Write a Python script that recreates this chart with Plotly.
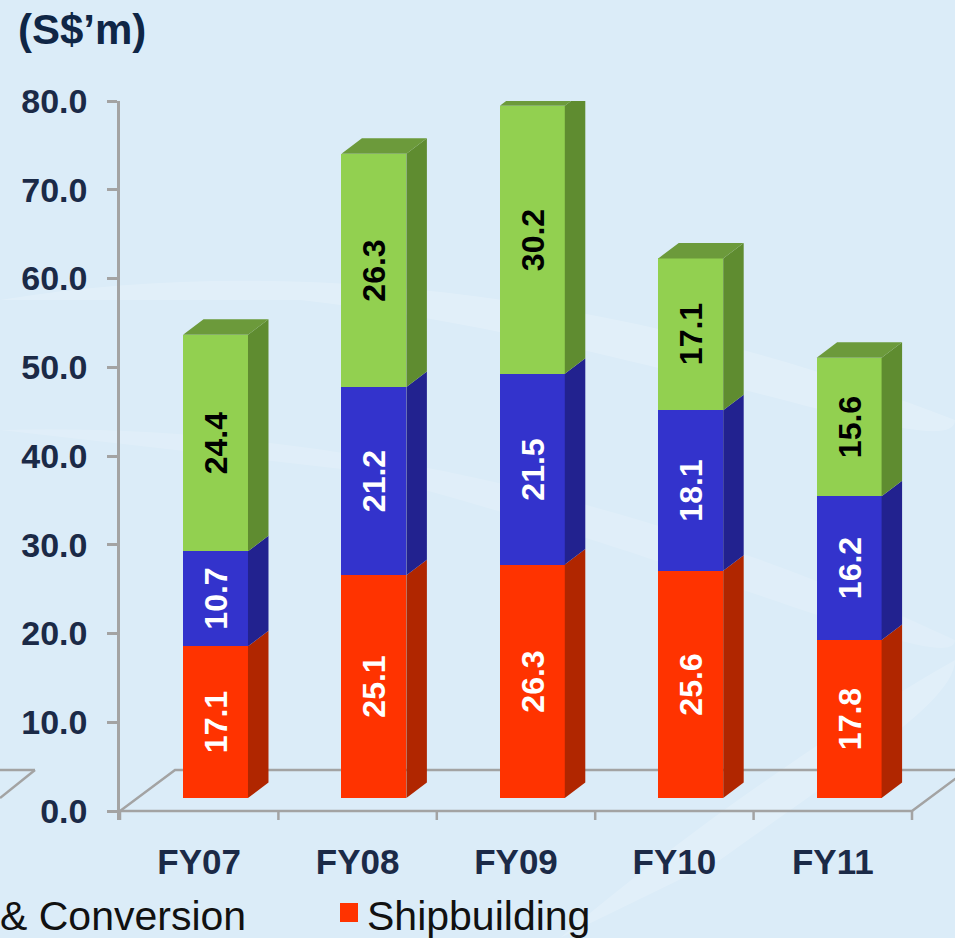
import plotly.graph_objects as go

# ---------------- data ----------------
categories = ["FY07", "FY08", "FY09", "FY10", "FY11"]
shipbuilding = [17.1, 25.1, 26.3, 25.6, 17.8]
repair_conversion = [10.7, 21.2, 21.5, 18.1, 16.2]
other_segment = [24.4, 26.3, 30.2, 17.1, 15.6]
y_ticks = [0, 10, 20, 30, 40, 50, 60, 70, 80]

# ---------------- geometry / style ----------------
W, H = 955, 938
L_M, T_M = 120, 101
PLOT_BOTTOM_PX = 820
PX_PER_UNIT = 8.875          # px per S$m on the y axis
CAT_PX = 158.4               # px per category
Y_MIN = -9 / PX_PER_UNIT     # axis line extends a bit below zero
Y2_MIN = -22 / PX_PER_UNIT   # bars sit 13px above the floor front edge
Y_SPAN = 80 - Y_MIN
X_MAX = (W - L_M) / CAT_PX

BAR_OFF = 0.603              # bar centre offset inside a category
BAR_W = 0.41
DX = 20.5 / CAT_PX           # bar depth (x)
DY = 15.5 / PX_PER_UNIT      # bar depth (y)
FDX = 55 / CAT_PX            # floor depth
FDY = 41 / PX_PER_UNIT

FONT = "Liberation Sans, Arial, sans-serif"
NAVY = "#1b2a47"
GRID = "#a3a3a3"

series = [
    dict(name="Shipbuilding", vals=shipbuilding, front="#ff3300", side="#b02600", txt="white"),
    dict(name="Repair & Conversion", vals=repair_conversion, front="#3333cc", side="#22228f", txt="white"),
    dict(name="Other", vals=other_segment, front="#92d050", side="#5f8c30", txt="black"),
]
TOP_COLOR = "#6c9a3b"

n = len(categories)
xpos = [i + BAR_OFF for i in range(n)]

fig = go.Figure()

# floor + x ticks on the main axis (drawn beneath the bar subplot)
fx, fy = [], []
fx += [0, n, n + FDX]; fy += [0, 0, FDY]
fx += [None]; fy += [None]
fx += [0, FDX, n + 2 * FDX]; fy += [0, FDY, FDY]
for k in range(n + 1):
    fx += [None, k, k]; fy += [None, 0, Y_MIN]
fig.add_trace(go.Scatter(x=fx, y=fy, mode="lines", line=dict(color=GRID, width=2.5),
                         hoverinfo="skip", showlegend=False, xaxis="x", yaxis="y"))

# front faces
cum = [0.0] * n
bases = []
for s in series:
    bases.append(cum[:])
    fig.add_trace(go.Bar(
        x=xpos, y=s["vals"], width=BAR_W, name=s["name"], yaxis="y2",
        marker=dict(color=s["front"], line=dict(width=0)),
        text=[f"{v:.1f}" for v in s["vals"]], textposition="inside",
        insidetextanchor="middle", textangle=-90, constraintext="none",
        textfont=dict(family=FONT, size=32, color=s["txt"], weight="bold"),
        showlegend=False, hoverinfo="x+y+name"))
    cum = [c + v for c, v in zip(cum, s["vals"])]

# side faces
for s, base in zip(series, bases):
    px_, py_ = [], []
    for i in range(n):
        x1 = xpos[i] + BAR_W / 2
        b, t = base[i], base[i] + s["vals"][i]
        px_ += [x1, x1 + DX, x1 + DX, x1, x1, None]
        py_ += [b, b + DY, t + DY, t, b, None]
    fig.add_trace(go.Scatter(x=px_, y=py_, mode="lines", fill="toself",
                             fillcolor=s["side"], line=dict(width=0, color=s["side"]),
                             hoverinfo="skip", showlegend=False, yaxis="y2"))

# top faces
tx, ty = [], []
for i in range(n):
    x0, x1 = xpos[i] - BAR_W / 2, xpos[i] + BAR_W / 2
    T = cum[i]
    tx += [x0, x0 + DX, x1 + DX, x1, x0, None]
    ty += [T, T + DY, T + DY, T, T, None]
fig.add_trace(go.Scatter(x=tx, y=ty, mode="lines", fill="toself", fillcolor=TOP_COLOR,
                         line=dict(width=0, color=TOP_COLOR), hoverinfo="skip",
                         showlegend=False, yaxis="y2"))


def pxx(p):
    return (p - L_M) / (W - L_M)


def pxy(p):
    return (PLOT_BOTTOM_PX - p) / (PLOT_BOTTOM_PX - T_M)


shapes = []


def swoosh(pts, opacity):
    d = f"M {pxx(pts[0][0]):.4f},{pxy(pts[0][1]):.4f}"
    segs = []
    for j in range(1, len(pts) - 2, 3):
        (a1, b1), (a2, b2), (a3, b3) = pts[j], pts[j + 1], pts[j + 2]
        segs.append(f"C {pxx(a1):.4f},{pxy(b1):.4f} {pxx(a2):.4f},{pxy(b2):.4f} {pxx(a3):.4f},{pxy(b3):.4f}")
    return dict(type="path", xref="paper", yref="paper", path=d + " " + " ".join(segs) + " Z",
                fillcolor="white", opacity=opacity, line=dict(width=0), layer="below")


# soft background swooshes
shapes.append(swoosh([(0, 300), (300, 250), (650, 300), (955, 420),
                      (955, 470), (650, 340), (300, 300), (0, 360)], 0.18))
shapes.append(swoosh([(0, 430), (350, 420), (700, 520), (955, 640),
                      (955, 680), (700, 560), (350, 470), (0, 490)], 0.14))
shapes.append(swoosh([(560, 938), (700, 820), (850, 720), (955, 660),
                      (955, 700), (860, 760), (720, 860), (620, 938)], 0.18))

# fragment of the neighbouring chart's floor at the far left
shapes.append(dict(type="line", xref="paper", yref="paper", x0=pxx(0), y0=pxy(770),
                   x1=pxx(35), y1=pxy(770), line=dict(color=GRID, width=2.5)))
shapes.append(dict(type="line", xref="paper", yref="paper", x0=pxx(35), y0=pxy(770),
                   x1=pxx(0), y1=pxy(798), line=dict(color=GRID, width=2.5)))
# legend marker
shapes.append(dict(type="rect", xref="paper", yref="paper", x0=pxx(340), x1=pxx(358),
                   y0=pxy(922), y1=pxy(903), fillcolor="#ff3300", line=dict(width=0)))

annotations = [
    dict(text="(S$’m)", xref="paper", yref="paper", x=pxx(16), y=pxy(30),
         xanchor="left", yanchor="middle", showarrow=False,
         font=dict(family=FONT, size=42, color="#0f2646", weight="bold")),
    dict(text="& Conversion", xref="paper", yref="paper", x=pxx(-2), y=pxy(916),
         xanchor="left", yanchor="middle", showarrow=False,
         font=dict(family=FONT, size=41, color="#111111")),
    dict(text="Shipbuilding", xref="paper", yref="paper", x=pxx(365), y=pxy(916),
         xanchor="left", yanchor="middle", showarrow=False,
         font=dict(family=FONT, size=41, color="#111111")),
]

fig.update_layout(
    width=W, height=H,
    margin=dict(l=L_M, r=0, t=T_M, b=H - PLOT_BOTTOM_PX, pad=0),
    paper_bgcolor="#dbecf8", plot_bgcolor="rgba(0,0,0,0)",
    barmode="stack", bargap=0, showlegend=False,
    shapes=shapes, annotations=annotations,
    xaxis=dict(range=[0, X_MAX], tickmode="array",
               tickvals=[i + 0.5 for i in range(n)], ticktext=categories,
               ticks="", showline=False, showgrid=False, zeroline=False,
               ticklabelstandoff=18, fixedrange=True,
               tickfont=dict(family=FONT, size=35, color=NAVY, weight="bold")),
    yaxis=dict(range=[Y_MIN, 80], tickmode="array", tickvals=y_ticks,
               ticktext=[f"{v:.1f}" for v in y_ticks],
               ticks="outside", ticklen=10, tickwidth=2.5, tickcolor=GRID,
               showline=True, linecolor=GRID, linewidth=2.5,
               showgrid=False, zeroline=False, ticklabelstandoff=13,
               tickfont=dict(family=FONT, size=34, color=NAVY, weight="bold")),
    yaxis2=dict(range=[Y2_MIN, Y2_MIN + Y_SPAN],
                overlaying="y", visible=False, fixedrange=True),
)

fig.write_html("out.html", config={"displayModeBar": False},
               post_script="document.body.style.margin='0';document.body.style.padding='0';")
